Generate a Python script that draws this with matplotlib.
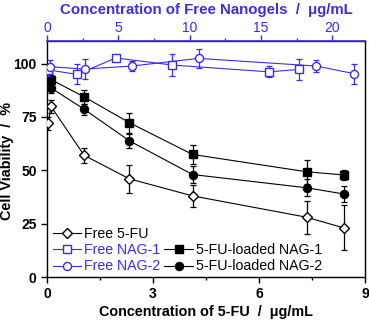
import matplotlib
matplotlib.use("Agg")
import matplotlib.pyplot as plt
from matplotlib.lines import Line2D
from matplotlib.ticker import MultipleLocator

plt.rcParams['font.family'] = ['Liberation Sans', 'DejaVu Sans']

BLUE = '#3b2ee0'

# 5-FU concentration (bottom axis, ug/mL)
fu_x = [0.04, 0.11, 1.05, 2.33, 4.12, 7.35, 8.4]
free_fu = [72, 80, 57, 46, 38, 28, 23]
free_fu_err = [3, 3, 3.5, 6.5, 5, 7.7, 10.5]
loaded1 = [95.4, 92.5, 84.4, 72.3, 57.4, 49.3, 47.8]
loaded1_err = [2, 2, 3.3, 4.7, 4.5, 5.6, 2.5]
loaded2 = [91, 88.6, 78.6, 63.8, 48, 41.8, 38.9]
loaded2_err = [2, 2.5, 2.5, 3.3, 4, 4, 3.7]

# Free nanogel concentration (top axis, ug/mL)
nag1_x = [0.1, 2.1, 4.83, 8.75, 15.56, 17.68]
nag1 = [97, 94.9, 102.6, 99.3, 96.1, 97.2]
nag1_err = [3, 4.7, 1.5, 5, 2.5, 5]
nag2_x = [0.2, 2.65, 5.94, 10.63, 18.9, 21.5]
nag2 = [98.5, 97.4, 98.8, 102.4, 98.8, 95.3]
nag2_err = [3, 4.5, 2.5, 4.5, 3, 4.7]

fig = plt.figure(figsize=(3.69, 3.21), dpi=100)
ax = fig.add_axes([0.1274, 0.137, 0.8616, 0.735])
ax2 = ax.twiny()

common = dict(lw=0.8, elinewidth=0.9, capsize=2.5, capthick=0.9, markersize=5.8)
ax.errorbar(fu_x, free_fu, yerr=free_fu_err, color='black', marker='D', mfc='white',
            mec='black', markersize=5.5, lw=0.8, elinewidth=0.9, capsize=2.5, capthick=0.9, zorder=3)
ax.errorbar(fu_x, loaded1, yerr=loaded1_err, color='black', marker='s', mfc='black',
            mec='black', zorder=3, **common)
ax.errorbar(fu_x, loaded2, yerr=loaded2_err, color='black', marker='o', mfc='black',
            mec='black', zorder=3, **common)
ax2.errorbar(nag1_x, nag1, yerr=nag1_err, color=BLUE, marker='s', mfc='white',
             mec=BLUE, zorder=3, **common)
ax2.errorbar(nag2_x, nag2, yerr=nag2_err, color=BLUE, marker='o', mfc='white',
             mec=BLUE, zorder=3, **common)

ax.set_xlim(0, 9)
ax.set_ylim(0, 110.5)
ax2.set_xlim(0, 22.3)
ax.xaxis.set_major_locator(MultipleLocator(3))
ax.xaxis.set_minor_locator(MultipleLocator(1.5))
ax.yaxis.set_major_locator(MultipleLocator(25))
ax2.xaxis.set_major_locator(MultipleLocator(5))
ax2.xaxis.set_minor_locator(MultipleLocator(2.5))

ax.tick_params(which='major', direction='out', length=4, width=1, labelsize=10)
ax.tick_params(which='minor', direction='out', length=2.5, width=1)
for lab in ax.get_xticklabels() + ax.get_yticklabels():
    lab.set_fontweight('bold')
ax2.tick_params(which='major', direction='out', length=4, width=1, colors=BLUE,
                labelsize=10, pad=0.5)
ax2.tick_params(which='minor', direction='out', length=2.5, width=1, colors=BLUE)

for sp in ax.spines.values():
    sp.set_linewidth(1.0)
ax2.spines['top'].set_color(BLUE)
ax2.spines['top'].set_linewidth(1.2)
for s in ['left', 'right', 'bottom']:
    ax2.spines[s].set_visible(False)

ax.set_xlabel('Concentration of 5-FU  /  \u03bcg/mL', fontsize=10.4, fontweight='bold')
ax.xaxis.set_label_coords(0.5, -0.12)
ax.set_ylabel('Cell Viability  /  %', fontsize=10.4, fontweight='bold')
ax.yaxis.set_label_coords(-0.104, 0.49)
ax2.set_xlabel('Concentration of Free Nanogels  /  \u03bcg/mL', fontsize=10.8,
               fontweight='bold', color=BLUE)
ax2.xaxis.set_label_coords(0.5, 1.115)

def handle(color, marker, mfc, size=5.8):
    return Line2D([], [], color=color, marker=marker, mfc=mfc, mec=color,
                  markersize=size, lw=0.8)

blank = Line2D([], [], color='none')
handles = [handle('black', 'D', 'white', 5.5), handle(BLUE, 's', 'white'), handle(BLUE, 'o', 'white'),
           blank, handle('black', 's', 'black'), handle('black', 'o', 'black')]
labels = ['Free 5-FU', 'Free NAG-1', 'Free NAG-2', '', '5-FU-loaded NAG-1', '5-FU-loaded NAG-2']
leg = ax.legend(handles, labels, ncol=2, loc='lower left', bbox_to_anchor=(0.018, 0.015),
                frameon=False, fontsize=10.2, handlelength=2.0, handletextpad=0.2,
                labelspacing=0.15, columnspacing=0.3, borderaxespad=0.0, borderpad=0.0)
txt_colors = ['black', BLUE, BLUE, 'black', 'black', 'black']
for t, c in zip(leg.get_texts(), txt_colors):
    t.set_color(c)

fig.savefig('out.png', dpi=100)
